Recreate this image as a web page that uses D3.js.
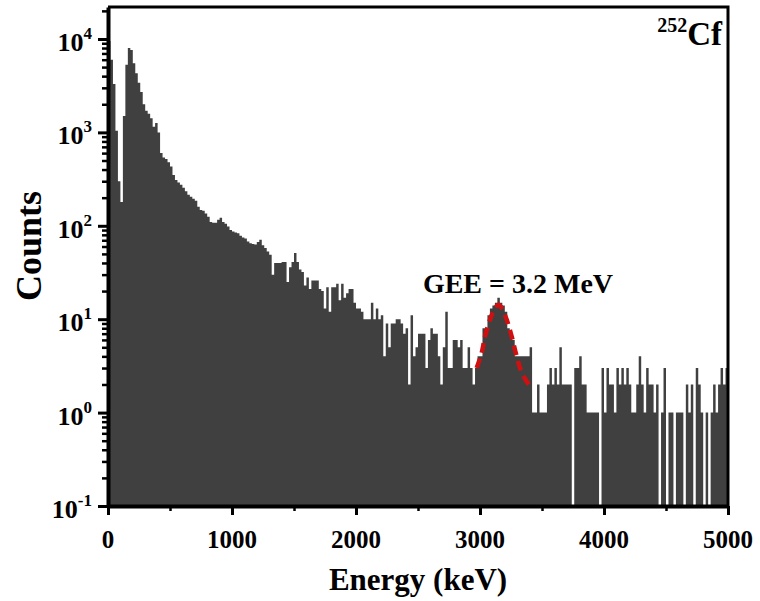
<!DOCTYPE html>
<html>
<head>
<meta charset="utf-8">
<script src="https://cdn.jsdelivr.net/npm/d3@7"></script>
<style>
  body { margin: 0; background: #fff; }
  svg text { font-family: "Liberation Serif", "Times New Roman", serif; font-weight: bold; fill: #000; }
</style>
</head>
<body>
<div id="chart"></div>
<script>
// 252Cf spectrum, 20 keV bins from 0 to 5000 keV
var binWidth = 20;
var counts = [
  9500, 6000, 3300, 1040, 300, 180, 1500, 5300, 8000, 7600,
  5500, 4300, 3400, 2700, 2000, 1700, 1580, 1420, 1150, 1260,
  1000, 600, 540, 520, 480, 430, 350, 310, 290, 275,
  255, 235, 215, 205, 195, 185, 160, 148, 145, 135,
  125, 110, 108, 108, 116, 122, 110, 105, 98, 90,
  87, 85, 83, 78, 75, 73, 68, 65, 64, 63,
  67, 71, 62, 58, 53, 49, 30, 40, 40, 40,
  41, 41, 25, 36, 41, 51, 41, 34, 32, 23,
  28, 21, 26, 26, 26, 21, 20, 13, 22, 12,
  22, 22, 24, 16, 24, 17, 19, 21, 21, 15,
  13, 13, 12, 10, 10, 10, 15, 10, 13, 10,
  11, 4, 9, 5, 9, 9, 10, 10, 9, 7,
  8, 2, 11, 4, 5, 7, 7, 7, 3, 6,
  8, 7, 7, 4, 2, 5, 12, 3, 3, 6,
  6, 5, 6, 3, 3, 5, 3, 2, 3, 4,
  4, 8, 8, 11, 13, 14, 15, 17, 15, 14,
  12, 8, 7, 6, 4, 4, 4, 4, 4, 4,
  5, 1, 1, 2, 1, 1, 1, 2, 3, 2,
  3, 2, 5, 2, 2, 2, 2, 0, 3, 3,
  4, 2, 2, 1, 1, 1, 1, 1, 0, 3,
  1, 3, 2, 2, 1, 3, 2, 3, 2, 3,
  2, 1, 1, 2, 4, 2, 1, 3, 2, 2,
  1, 2, 0, 1, 3, 0, 1, 1, 0, 1,
  1, 1, 0, 2, 1, 2, 0, 3, 2, 1,
  0, 1, 0, 1, 2, 1, 2, 3, 2, 3
];

// Gaussian fit of the 3.2 MeV peak
var fitEnergy = [2973, 3014, 3040, 3081, 3107, 3148, 3175, 3215, 3256, 3296, 3336, 3403];
var fitCounts = [3.0, 4.4, 6.5, 9.9, 12.1, 14.3, 13.2, 9.9, 6.5, 4.0, 2.7, 1.9];

var xTicks = [0, 1000, 2000, 3000, 4000, 5000];
var xMinor = [500, 1500, 2500, 3500, 4500];
var yExps = [-1, 0, 1, 2, 3, 4];

var width = 760, height = 601;
var plotLeft = 108, plotRight = 728, plotTop = 7, plotBottom = 506;

var svg = d3.select("#chart").append("svg")
    .attr("width", width)
    .attr("height", height);

var x = d3.scaleLinear().domain([0, 5000]).range([plotLeft, plotRight]);
var y = d3.scaleLog().domain([0.1, 22000]).range([plotBottom, plotTop]);

// histogram as a stepped area
var steps = counts.map(function(c, i) { return {e: i * binWidth, c: c}; });
steps.push({e: 5000, c: counts[counts.length - 1]});

var area = d3.area()
    .curve(d3.curveStepAfter)
    .x(function(d) { return x(d.e); })
    .y0(plotBottom)
    .y1(function(d) { return d.c > 0 ? y(d.c) : plotBottom; });

svg.append("path")
    .datum(steps)
    .attr("d", area)
    .attr("fill", "#404040");

// fit curve
var fitLine = d3.line()
    .curve(d3.curveCatmullRom)
    .x(function(d) { return x(d[0]); })
    .y(function(d) { return y(d[1]); });

svg.append("path")
    .datum(fitEnergy.map(function(e, i) { return [e, fitCounts[i]]; }))
    .attr("d", fitLine)
    .attr("fill", "none")
    .attr("stroke", "#d01010")
    .attr("stroke-width", 4.5)
    .attr("stroke-dasharray", "10,6");

// frame top and right
svg.append("path")
    .attr("d", "M" + plotLeft + "," + plotTop + "H" + plotRight + "V" + plotBottom)
    .attr("fill", "none")
    .attr("stroke", "#000")
    .attr("stroke-width", 3);

// y axis
var yMinor = [];
yExps.forEach(function(p) {
    for (var k = 2; k <= 9; k++) {
        var v = k * Math.pow(10, p);
        if (v <= 22000) yMinor.push(v);
    }
});

var yAxis = svg.append("g")
    .attr("transform", "translate(" + plotLeft + ",0)")
    .call(d3.axisLeft(y)
        .tickValues(yExps.map(function(p) { return Math.pow(10, p); }))
        .tickSize(10).tickSizeOuter(0).tickFormat(""));
yAxis.select(".domain").attr("stroke-width", 4);
yAxis.selectAll(".tick line").attr("stroke-width", 3);

var yAxisMinor = svg.append("g")
    .attr("transform", "translate(" + plotLeft + ",0)")
    .call(d3.axisLeft(y).tickValues(yMinor).tickSize(6).tickSizeOuter(0).tickFormat(""));
yAxisMinor.select(".domain").remove();
yAxisMinor.selectAll(".tick line").attr("stroke-width", 2.5);

var yLabels = svg.append("g");
yExps.forEach(function(p) {
    var ty = y(Math.pow(10, p));
    var t = yLabels.append("text")
        .attr("x", 92)
        .attr("y", ty + 12)
        .attr("text-anchor", "end")
        .style("font-size", "26px");
    t.append("tspan").text("10");
    t.append("tspan")
        .attr("dy", -12)
        .style("font-size", "17px")
        .text(String(p));
});

// x axis
var xAxis = svg.append("g")
    .attr("transform", "translate(0," + plotBottom + ")")
    .call(d3.axisBottom(x).tickValues(xTicks).tickSize(9).tickSizeOuter(0).tickFormat(""));
xAxis.select(".domain").attr("stroke-width", 4);
xAxis.selectAll(".tick line").attr("stroke-width", 3);

var xAxisMinor = svg.append("g")
    .attr("transform", "translate(0," + plotBottom + ")")
    .call(d3.axisBottom(x).tickValues(xMinor).tickSize(5).tickSizeOuter(0).tickFormat(""));
xAxisMinor.select(".domain").remove();
xAxisMinor.selectAll(".tick line").attr("stroke-width", 2.5);

svg.append("g").selectAll("text")
    .data(xTicks)
    .enter().append("text")
    .attr("x", function(d) { return x(d); })
    .attr("y", 548)
    .attr("text-anchor", "middle")
    .style("font-size", "25px")
    .text(function(d) { return d; });

// axis titles
svg.append("text")
    .attr("x", (plotLeft + plotRight) / 2)
    .attr("y", 590)
    .attr("text-anchor", "middle")
    .style("font-size", "31px")
    .text("Energy (keV)");

svg.append("text")
    .attr("transform", "translate(41,246) rotate(-90)")
    .attr("text-anchor", "middle")
    .style("font-size", "36px")
    .text("Counts");

// annotations
svg.append("text")
    .attr("x", 518)
    .attr("y", 293)
    .attr("text-anchor", "middle")
    .style("font-size", "28px")
    .text("GEE = 3.2 MeV");

var src = svg.append("text")
    .attr("x", 722)
    .attr("y", 45)
    .attr("text-anchor", "end");
src.append("tspan").style("font-size", "20px").attr("dy", -13).text("252");
src.append("tspan").style("font-size", "33px").attr("dy", 13).text("Cf");
</script>
</body>
</html>
